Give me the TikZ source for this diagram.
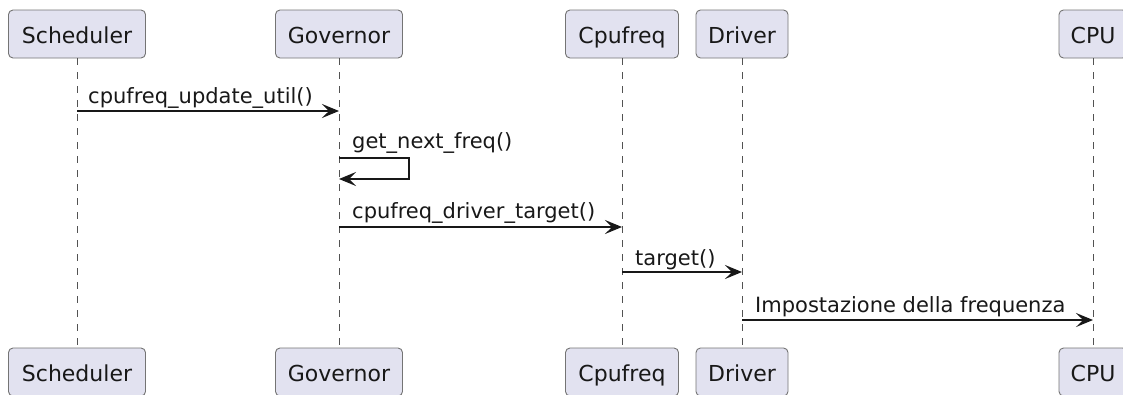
\documentclass[tikz,border=0pt]{standalone}
\usepackage{fontspec}
\setmainfont{DejaVu Sans}
\usetikzlibrary{arrows.meta}
\definecolor{partfill}{HTML}{E2E2F0}
\definecolor{partline}{HTML}{181818}

\begin{document}
\begin{tikzpicture}[x=1pt,y=-1pt,
    part/.style={draw=partline!60,fill=partfill,rounded corners=4.5pt,line width=0.9pt,
      minimum height=48pt,inner sep=0pt,text height=22pt,text depth=4pt,
      text=partline,font=\fontsize{22}{25}\selectfont},
    life/.style={draw=partline!75,line width=0.8pt,dash pattern=on 7pt off 7pt},
    msg/.style={draw=partline,line width=1.4pt,-{Stealth[length=17pt,width=14pt,inset=7pt]}},
    lbl/.style={anchor=base west,inner sep=0pt,text=partline,font=\fontsize{21}{24}\selectfont}]
  \useasboundingbox (0,0) rectangle (1123,394);
  % participants at top and bottom, joined by their lifelines
  \foreach \n/\t/\x/\w in {sched/Scheduler/77/137, gov/Governor/339/127,
      freq/Cpufreq/622/113, drv/Driver/742/92, cpu/CPU/1093/68}{
    \node (\n-top) [part,minimum width=\w pt] at (\x,34) {\t};
    \node (\n-bot) [part,minimum width=\w pt] at (\x,372) {\t};
    \draw[life] (\n-top) -- (\n-bot);
  }
  % messages
  \draw[msg] (sched-top |- 0,111) coordinate (m1) -- (gov-top |- 0,111);
  \node[lbl] at ([shift={(11,-8)}]m1) {cpufreq\_update\_util()};
  \draw[msg] (gov-top |- 0,158) coordinate (m2) -- ++(70,0) -- ++(0,21) -- ++(-70,0);
  \node[lbl] at ([shift={(13,-10)}]m2) {get\_next\_freq()};
  \draw[msg] (gov-top |- 0,227) coordinate (m3) -- (freq-top |- 0,227);
  \node[lbl] at ([shift={(13,-9)}]m3) {cpufreq\_driver\_target()};
  \draw[msg] (freq-top |- 0,272) coordinate (m4) -- (drv-top |- 0,272);
  \node[lbl] at ([shift={(13,-7)}]m4) {target()};
  \draw[msg] (drv-top |- 0,320) coordinate (m5) -- (cpu-top |- 0,320);
  \node[lbl] at ([shift={(13,-8)}]m5) {Impostazione della frequenza};
\end{tikzpicture}
\end{document}
